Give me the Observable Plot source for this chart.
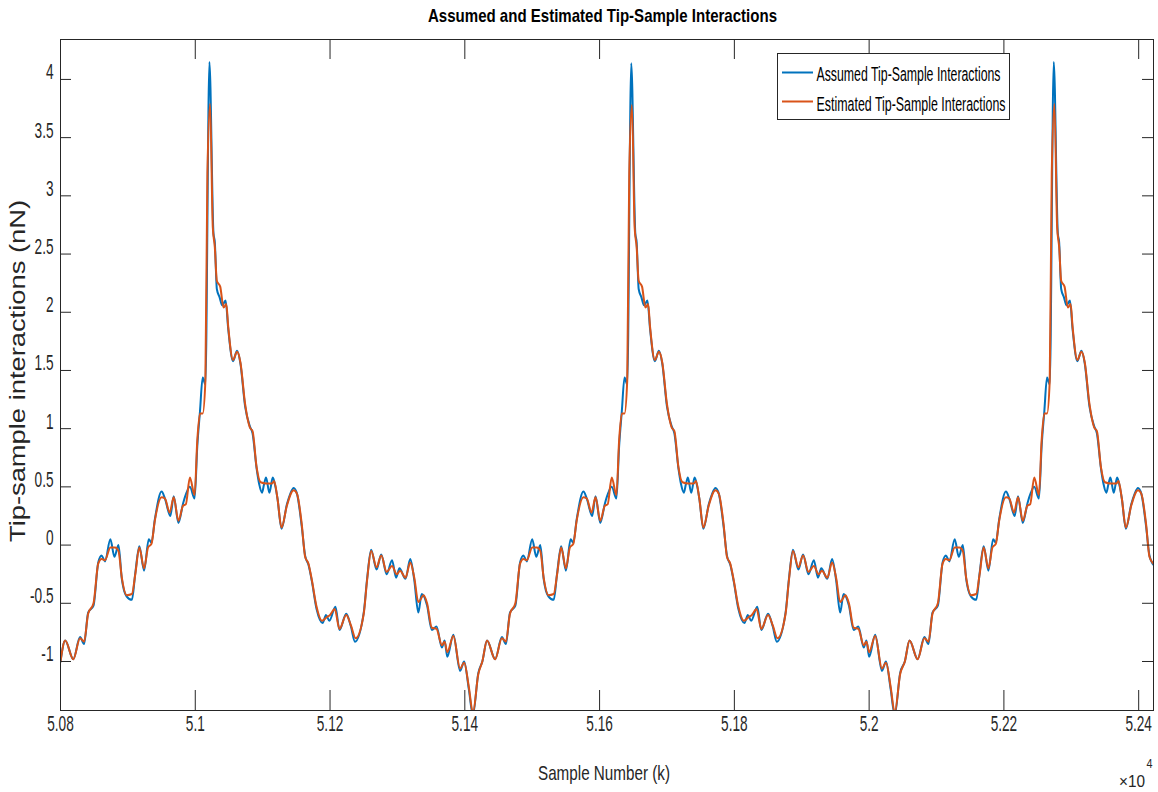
<!DOCTYPE html>
<html><head><meta charset="utf-8">
<script src="https://cdn.jsdelivr.net/npm/d3@7"></script>
<script src="https://cdn.jsdelivr.net/npm/@observablehq/plot@0.6"></script>
<style>body{margin:0;background:#fff}#chart{width:1158px;height:792px}</style>
</head><body><div id="chart"></div>
<script>
// ---- data (sample number, force in nN) ----
const assumedSample = [
50800,50807,50819,50829,50835,50841,50849,50856,50861,50866,
50874,50880,50886,50891,50898,50906,50911,50917,50924,50931,
50935,50940,50950,50955,50963,50968,50975,50982,50987,50992,
50999,51003,51007,51011,51015,51021,51027,51029,51032,51036,
51040,51045,51049,51056,51062,51067,51074,51081,51085,51091,
51095,51099,51102,51105,51110,51115,51119,51122,51128,51136,
51141,51146,51151,51158,51163,51168,51173,51180,51189,51194,
51199,51208,51214,51224,51231,51237,51250,51255,51261,51269,
51276,51284,51292,51298,51303,51312,51319,51325,51331,51336,
51344,51351,51358,51366,51370,51374,51383,51393,51399,51406,
51412,51420,
51426,51433,51445,51455,51461,51467,51475,51482,51487,51492,
51500,51506,51512,51517,51524,51532,51537,51543,51550,51557,
51561,51566,51576,51581,51589,51594,51601,51608,51613,51618,
51625,51629,51633,51637,51641,51647,51653,51655,51658,51662,
51666,51671,51675,51682,51688,51693,51700,51707,51711,51717,
51721,51725,51728,51731,51736,51741,51745,51748,51754,51762,
51767,51772,51777,51784,51789,51794,51799,51806,51815,51820,
51825,51834,51840,51850,51857,51863,51876,51881,51887,51895,
51902,51910,51918,51924,51929,51938,51945,51951,51957,51962,
51970,51977,51984,51992,51996,52000,52009,52019,52025,52032,
52038,52046,
52053,52060,52072,52082,52088,52094,52102,52109,52114,52119,
52127,52133,52139,52144,52151,52159,52164,52170,52177,52184,
52188,52193,52203,52208,52216,52221,52228,52235,52240,52245,
52252,52256,52260,52264,52268,52274,52280,52282,52285,52289,
52293,52298,52302,52309,52315,52320,52327,52334,52338,52344,
52348,52352,52355,52358,52363,52368,52372,52375,52381,52389,
52394,52399,52404,52411,52416,52422
];
const assumedForce = [
-1.00,-0.82,-0.98,-0.79,-0.85,-0.58,-0.52,-0.15,-0.09,-0.14,
0.05,-0.10,0.00,-0.29,-0.44,-0.47,-0.24,-0.01,-0.22,0.05,
0.02,0.22,0.46,0.40,0.25,0.42,0.19,0.36,0.45,0.50,
0.40,0.85,1.15,1.44,1.38,4.15,2.68,2.60,2.20,2.13,
2.06,2.10,1.85,1.58,1.67,1.56,1.19,1.02,0.96,0.66,
0.52,0.45,0.52,0.58,0.45,0.58,0.50,0.40,0.14,0.35,
0.44,0.49,0.44,0.16,-0.09,-0.17,-0.31,-0.55,-0.67,-0.60,
-0.65,-0.53,-0.73,-0.59,-0.70,-0.83,-0.58,-0.29,-0.04,-0.21,
-0.08,-0.25,-0.13,-0.28,-0.20,-0.29,-0.12,-0.30,-0.58,-0.42,
-0.52,-0.73,-0.70,-0.88,-0.82,-0.96,-0.77,-1.08,-1.00,-1.24,
-1.46,-1.10,
-1.00,-0.82,-0.98,-0.79,-0.85,-0.58,-0.52,-0.15,-0.09,-0.14,
0.05,-0.10,0.00,-0.29,-0.44,-0.47,-0.24,-0.01,-0.22,0.05,
0.02,0.22,0.46,0.40,0.25,0.42,0.19,0.36,0.45,0.50,
0.40,0.85,1.15,1.44,1.38,4.14,2.68,2.60,2.20,2.13,
2.06,2.10,1.85,1.58,1.67,1.56,1.19,1.02,0.96,0.66,
0.52,0.45,0.52,0.58,0.45,0.58,0.50,0.40,0.14,0.35,
0.44,0.49,0.44,0.16,-0.09,-0.17,-0.31,-0.55,-0.67,-0.60,
-0.65,-0.53,-0.73,-0.59,-0.70,-0.83,-0.58,-0.29,-0.04,-0.21,
-0.08,-0.25,-0.13,-0.28,-0.20,-0.29,-0.12,-0.30,-0.58,-0.42,
-0.52,-0.73,-0.70,-0.88,-0.82,-0.96,-0.77,-1.08,-1.00,-1.24,
-1.46,-1.10,
-1.00,-0.82,-0.98,-0.79,-0.85,-0.58,-0.52,-0.15,-0.09,-0.14,
0.05,-0.10,0.00,-0.29,-0.44,-0.47,-0.24,-0.01,-0.22,0.05,
0.02,0.22,0.46,0.40,0.25,0.42,0.19,0.36,0.45,0.50,
0.40,0.85,1.15,1.44,1.38,4.15,2.68,2.60,2.20,2.13,
2.06,2.10,1.85,1.58,1.67,1.56,1.19,1.02,0.96,0.66,
0.52,0.45,0.52,0.58,0.45,0.58,0.50,0.40,0.14,0.35,
0.44,0.49,0.44,0.16,-0.09,-0.17
];
const estimatedSample = [
50800,50807,50819,50829,50835,50841,50849,50856,50861,50866,
50874,50881,50886,50891,50898,50906,50911,50917,50924,50930,
50935,50940,50950,50955,50962,50968,50975,50982,50986,50992,
50999,51003,51007,51011,51015,51018,51022,51026,51029,51032,
51037,51042,51046,51049,51056,51062,51067,51074,51081,51085,
51091,51097,51105,51114,51117,51122,51128,51136,51146,51151,
51158,51163,51168,51173,51180,51188,51195,51200,51207,51214,
51224,51231,51238,51250,51255,51261,51269,51276,51284,51292,
51299,51304,51312,51319,51325,51331,51339,51344,51351,51358,
51366,51370,51374,51383,51393,51399,51406,51412,51420,
51426,51433,51445,51455,51461,51467,51475,51482,51487,51492,
51500,51507,51512,51517,51524,51532,51537,51543,51550,51556,
51561,51566,51576,51581,51588,51594,51601,51608,51612,51618,
51625,51629,51633,51637,51641,51644,51648,51652,51655,51658,
51663,51668,51672,51675,51682,51688,51693,51700,51707,51711,
51717,51723,51731,51740,51743,51748,51754,51762,51772,51777,
51784,51789,51794,51799,51806,51814,51821,51826,51833,51840,
51850,51857,51864,51876,51881,51887,51895,51902,51910,51918,
51925,51930,51938,51945,51951,51957,51965,51970,51977,51984,
51992,51996,52000,52009,52019,52025,52032,52038,52046,
52053,52060,52072,52082,52088,52094,52102,52109,52114,52119,
52127,52134,52139,52144,52151,52159,52164,52170,52177,52183,
52188,52193,52203,52208,52215,52221,52228,52235,52239,52245,
52252,52256,52260,52264,52268,52271,52275,52279,52282,52285,
52290,52295,52299,52302,52309,52315,52320,52327,52334,52338,
52344,52350,52358,52367,52370,52375,52381,52389,52399,52404,
52411,52416,52422
];
const estimatedForce = [
-1.00,-0.82,-0.98,-0.80,-0.83,-0.59,-0.50,-0.16,-0.12,-0.13,
-0.02,-0.02,-0.05,-0.28,-0.43,-0.42,-0.25,-0.02,-0.20,-0.02,
0.01,0.21,0.41,0.40,0.28,0.41,0.21,0.34,0.35,0.58,
0.43,0.90,1.13,1.13,1.41,3.19,3.79,2.73,2.56,2.27,
2.22,2.04,2.07,1.87,1.59,1.66,1.57,1.21,1.01,0.98,
0.67,0.54,0.53,0.53,0.55,0.40,0.15,0.34,0.47,0.44,
0.18,-0.10,-0.16,-0.30,-0.53,-0.65,-0.62,-0.60,-0.55,-0.72,
-0.60,-0.69,-0.80,-0.59,-0.30,-0.05,-0.19,-0.09,-0.23,-0.18,
-0.25,-0.22,-0.28,-0.15,-0.28,-0.49,-0.43,-0.50,-0.71,-0.72,
-0.86,-0.83,-0.92,-0.78,-1.06,-1.01,-1.22,-1.44,-1.11,
-1.00,-0.82,-0.98,-0.80,-0.83,-0.59,-0.50,-0.16,-0.12,-0.13,
-0.02,-0.02,-0.05,-0.28,-0.43,-0.42,-0.25,-0.02,-0.20,-0.02,
0.01,0.21,0.41,0.40,0.28,0.41,0.21,0.34,0.35,0.58,
0.43,0.90,1.13,1.13,1.41,3.19,3.78,2.73,2.56,2.27,
2.22,2.04,2.07,1.87,1.59,1.66,1.57,1.21,1.01,0.98,
0.67,0.54,0.53,0.53,0.55,0.40,0.15,0.34,0.47,0.44,
0.18,-0.10,-0.16,-0.30,-0.53,-0.65,-0.62,-0.60,-0.55,-0.72,
-0.60,-0.69,-0.80,-0.59,-0.30,-0.05,-0.19,-0.09,-0.23,-0.18,
-0.25,-0.22,-0.28,-0.15,-0.28,-0.49,-0.43,-0.50,-0.71,-0.72,
-0.86,-0.83,-0.92,-0.78,-1.06,-1.01,-1.22,-1.44,-1.11,
-1.00,-0.82,-0.98,-0.80,-0.83,-0.59,-0.50,-0.16,-0.12,-0.13,
-0.02,-0.02,-0.05,-0.28,-0.43,-0.42,-0.25,-0.02,-0.20,-0.02,
0.01,0.21,0.41,0.40,0.28,0.41,0.21,0.34,0.35,0.58,
0.43,0.90,1.13,1.13,1.41,3.19,3.79,2.73,2.56,2.27,
2.22,2.04,2.07,1.87,1.59,1.66,1.57,1.21,1.01,0.98,
0.67,0.54,0.53,0.53,0.55,0.40,0.15,0.34,0.47,0.44,
0.18,-0.10,-0.16
];
const seriesNames = ["Assumed Tip-Sample Interactions", "Estimated Tip-Sample Interactions"];
const seriesColors = ["#0072BD", "#D95319"];
const xTicks = [50800, 51000, 51200, 51400, 51600, 51800, 52000, 52200, 52400];
const yTicks = [-1, -0.5, 0, 0.5, 1, 1.5, 2, 2.5, 3, 3.5, 4];
const xDomain = [50800, 52422];
const yDomain = [-1.421, 4.343];
const titleText = "Assumed and Estimated Tip-Sample Interactions";
const xLabelText = "Sample Number (k)";
const yLabelText = "Tip-sample interactions (nN)";

if (assumedSample.length !== assumedForce.length || estimatedSample.length !== estimatedForce.length)
  console.warn("length mismatch", assumedSample.length, assumedForce.length, estimatedSample.length, estimatedForce.length);

const assumed = assumedSample.map((s, i) => ({s, f: assumedForce[i]}));
const estimated = estimatedSample.map((s, i) => ({s, f: estimatedForce[i]}));

const W = 1158, H = 792, mL = 60, mR = 5, mT = 39, mB = 82;
const fw = W - mL - mR, fh = H - mT - mB;
const axisColor = "#262626";
const FONT = "'Liberation Sans', Arial, Helvetica, sans-serif";

const plot = Plot.plot({
  width: W, height: H,
  marginLeft: mL, marginRight: mR, marginTop: mT, marginBottom: mB,
  style: {fontFamily: FONT, fontSize: "22px", color: axisColor, background: "#fff"},
  x: {domain: xDomain},
  y: {domain: yDomain},
  marks: [
    Plot.line(assumed, {x: "s", y: "f", stroke: seriesColors[0], strokeWidth: 2, curve: "monotone-x", clip: true}),
    Plot.line(estimated, {x: "s", y: "f", stroke: seriesColors[1], strokeWidth: 2, curve: "monotone-x", clip: true}),
    Plot.frame({stroke: axisColor, strokeWidth: 1}),
    Plot.tickX(xTicks, {x: d => d, stroke: axisColor, insetTop: fh - 20}),
    Plot.tickX(xTicks, {x: d => d, stroke: axisColor, insetBottom: fh - 20}),
    Plot.tickY(yTicks, {y: d => d, stroke: axisColor, insetRight: fw - 11}),
    Plot.tickY(yTicks, {y: d => d, stroke: axisColor, insetLeft: fw - 11}),
    Plot.axisX(xTicks, {tickSize: 0, tickPadding: 20, tickFormat: d => String(d / 10000), label: null}),
    Plot.axisY(yTicks, {tickSize: 0, tickPadding: 7, tickFormat: d => String(d), label: null})
  ]
});
document.getElementById("chart").appendChild(plot);

const svg = d3.select(plot);
// condensed tick labels (reference is horizontally squeezed); only Plot's axis texts exist at this point
svg.selectAll("text").each(function () {
  const x = +this.getAttribute("x") || 0, y = +this.getAttribute("y") || 0;
  this.removeAttribute("x"); this.removeAttribute("y");
  const t = this.getAttribute("transform") || "";
  this.setAttribute("transform", `${t} translate(${x},${y}) scale(0.62,1)`);
});

function addText(txt, opts) {
  const t = svg.append("text").text(txt)
    .attr("font-family", FONT)
    .attr("font-size", opts.size)
    .attr("fill", opts.fill || "#000")
    .attr("stroke", "none")
    .attr("text-anchor", opts.anchor || "start")
    .attr("transform", opts.transform);
  if (opts.weight) t.attr("font-weight", opts.weight);
  if (opts.len) t.attr("textLength", opts.len).attr("lengthAdjust", "spacingAndGlyphs");
  return t;
}
// title & axis labels
addText(titleText, {size: 19, weight: "bold", anchor: "middle", transform: "translate(602.5,21.7)", len: 349});
addText(xLabelText, {size: 21, anchor: "middle", fill: axisColor, transform: "translate(604,780)", len: 132});
addText(yLabelText, {size: 22, anchor: "middle", fill: axisColor, transform: "translate(25,371) rotate(-90)", len: 342});
// exponent
addText("\u00d710", {size: 17, fill: axisColor, transform: "translate(1119,787)", len: 26});
addText("4", {size: 12, fill: axisColor, transform: "translate(1146.5,768)", len: 6});

// legend
const lg = svg.append("g");
lg.append("rect").attr("x", 777.5).attr("y", 53.5).attr("width", 232).attr("height", 66)
  .attr("fill", "#fff").attr("stroke", axisColor).attr("stroke-width", 1);
const legendRows = [{y: 72.5, base: 80.5, len: 184}, {y: 101.5, base: 110.5, len: 189}];
seriesNames.forEach((name, i) => {
  lg.append("line").attr("x1", 782).attr("x2", 813).attr("y1", legendRows[i].y).attr("y2", legendRows[i].y)
    .attr("stroke", seriesColors[i]).attr("stroke-width", 2);
  addText(name, {size: 20.5, anchor: "start", transform: `translate(816.5,${legendRows[i].base})`, len: legendRows[i].len});
});
</script>
</body></html>
